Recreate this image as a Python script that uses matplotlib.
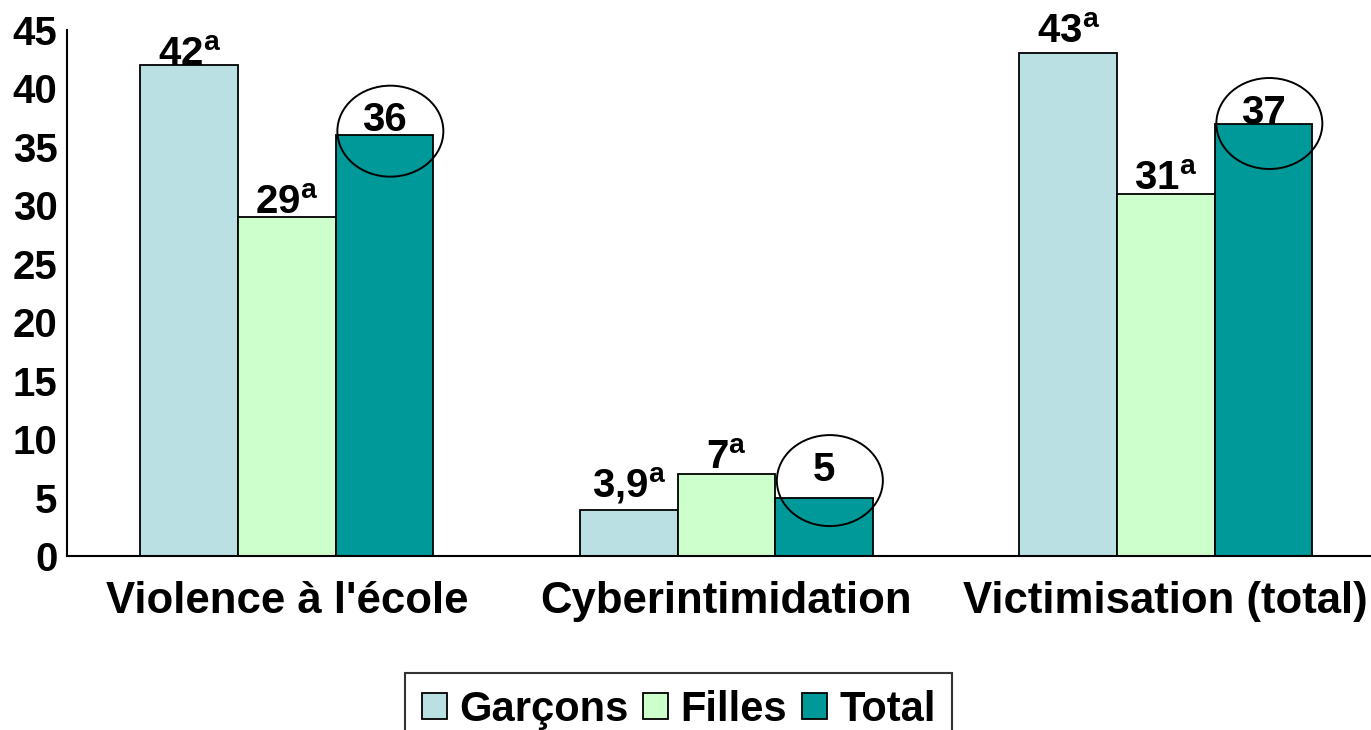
import matplotlib
matplotlib.use("Agg")
import matplotlib.pyplot as plt
from matplotlib.patches import Ellipse
import numpy as np

categories = ["Violence à l'école", "Cyberintimidation", "Victimisation (total)"]
series_names = ["Garçons", "Filles", "Total"]
garcons = [42, 3.9, 43]
filles = [29, 7, 31]
total = [36, 5, 37]
garcons_labels = ["42", "3,9", "43"]
filles_labels = ["29", "7", "31"]
total_labels = ["36", "5", "37"]
# superscript marks for each series
garcons_sup = ["a", "a", "a"]
filles_sup = ["a", "a", "a"]
total_sup = ["", "", ""]
yticks = [0, 5, 10, 15, 20, 25, 30, 35, 40, 45]

colors = ["#BBE0E3", "#CCFFCC", "#009999"]
# label vertical offsets above bar tops (points) per category, per series
label_offsets = [[-0.7, 2.2, 2.9], [9.4, 3.6, 12.2], [7.2, 2.9, 0.0]]

plt.rcParams["font.family"] = ["Liberation Sans", "DejaVu Sans"]
plt.rcParams["font.weight"] = "bold"
plt.rcParams["mathtext.fontset"] = "custom"
plt.rcParams["mathtext.rm"] = "Liberation Sans:bold"
plt.rcParams["mathtext.bf"] = "Liberation Sans:bold"

fig = plt.figure(figsize=(13.71, 7.30), dpi=100)
ax = fig.add_axes([0.0489, 0.2384, 0.9617, 0.7205])

x = np.arange(len(categories))
w = 0.222
values = [garcons, filles, total]
labels = [garcons_labels, filles_labels, total_labels]
sups = [garcons_sup, filles_sup, total_sup]

bars = []
for i, (vals, col, name) in enumerate(zip(values, colors, series_names)):
    b = ax.bar(x + (i - 1) * w, vals, width=w, color=col, edgecolor="black",
               linewidth=1.3, label=name, zorder=2)
    bars.append(b)

for i in range(3):
    for j in range(len(categories)):
        v = values[i][j]
        txt = labels[i][j]
        if sups[i][j]:
            txt = txt + r"$^{\mathrm{" + sups[i][j] + "}}$"
        ax.annotate(txt, xy=(x[j] + (i - 1) * w, v), xytext=(0, label_offsets[j][i]),
                    textcoords="offset points", ha="center", va="baseline",
                    fontsize=29, fontweight="bold", color="black", zorder=4)

# ellipses around Total labels
px_x = (fig.get_size_inches()[0] * fig.dpi * 0.9617) / 3.0
px_y = (fig.get_size_inches()[1] * fig.dpi * 0.7205) / 45.0
for j in range(len(categories)):
    v = total[j]
    cy = v + label_offsets[j][2] * (100 / 72) / px_y
    cx = x[j] + w + 6 / px_x
    e = Ellipse((cx, cy), width=106 / px_x, height=91 / px_y, fill=False,
                edgecolor="black", linewidth=1.4, zorder=5, clip_on=False)
    ax.add_patch(e)

ax.set_xlim(-0.5, 2.5)
ax.set_ylim(0, 45)
ax.set_yticks(yticks)
ax.set_yticklabels([str(t) for t in yticks], fontsize=29, fontweight="bold")
ax.set_xticks(x)
ax.set_xticklabels(categories, fontsize=31.5, fontweight="bold")
ax.tick_params(axis="y", length=0, pad=7)
ax.tick_params(axis="x", length=0, pad=18)
for s in ["top", "right"]:
    ax.spines[s].set_visible(False)
for s in ["left", "bottom"]:
    ax.spines[s].set_linewidth(1.5)
    ax.spines[s].set_color("black")

leg = fig.legend(handles=bars, labels=series_names, loc="upper center",
                 bbox_to_anchor=(0.495, 0.078), bbox_transform=fig.transFigure,
                 ncol=3, fontsize=30, frameon=True, fancybox=False,
                 handlelength=0.6, handleheight=0.6, handletextpad=0.3,
                 columnspacing=0.35, borderpad=0.4, borderaxespad=0)
leg.get_frame().set_edgecolor("black")
leg.get_frame().set_linewidth(1.5)
for t in leg.get_texts():
    t.set_fontweight("bold")

fig.savefig("out.png", dpi=100)
